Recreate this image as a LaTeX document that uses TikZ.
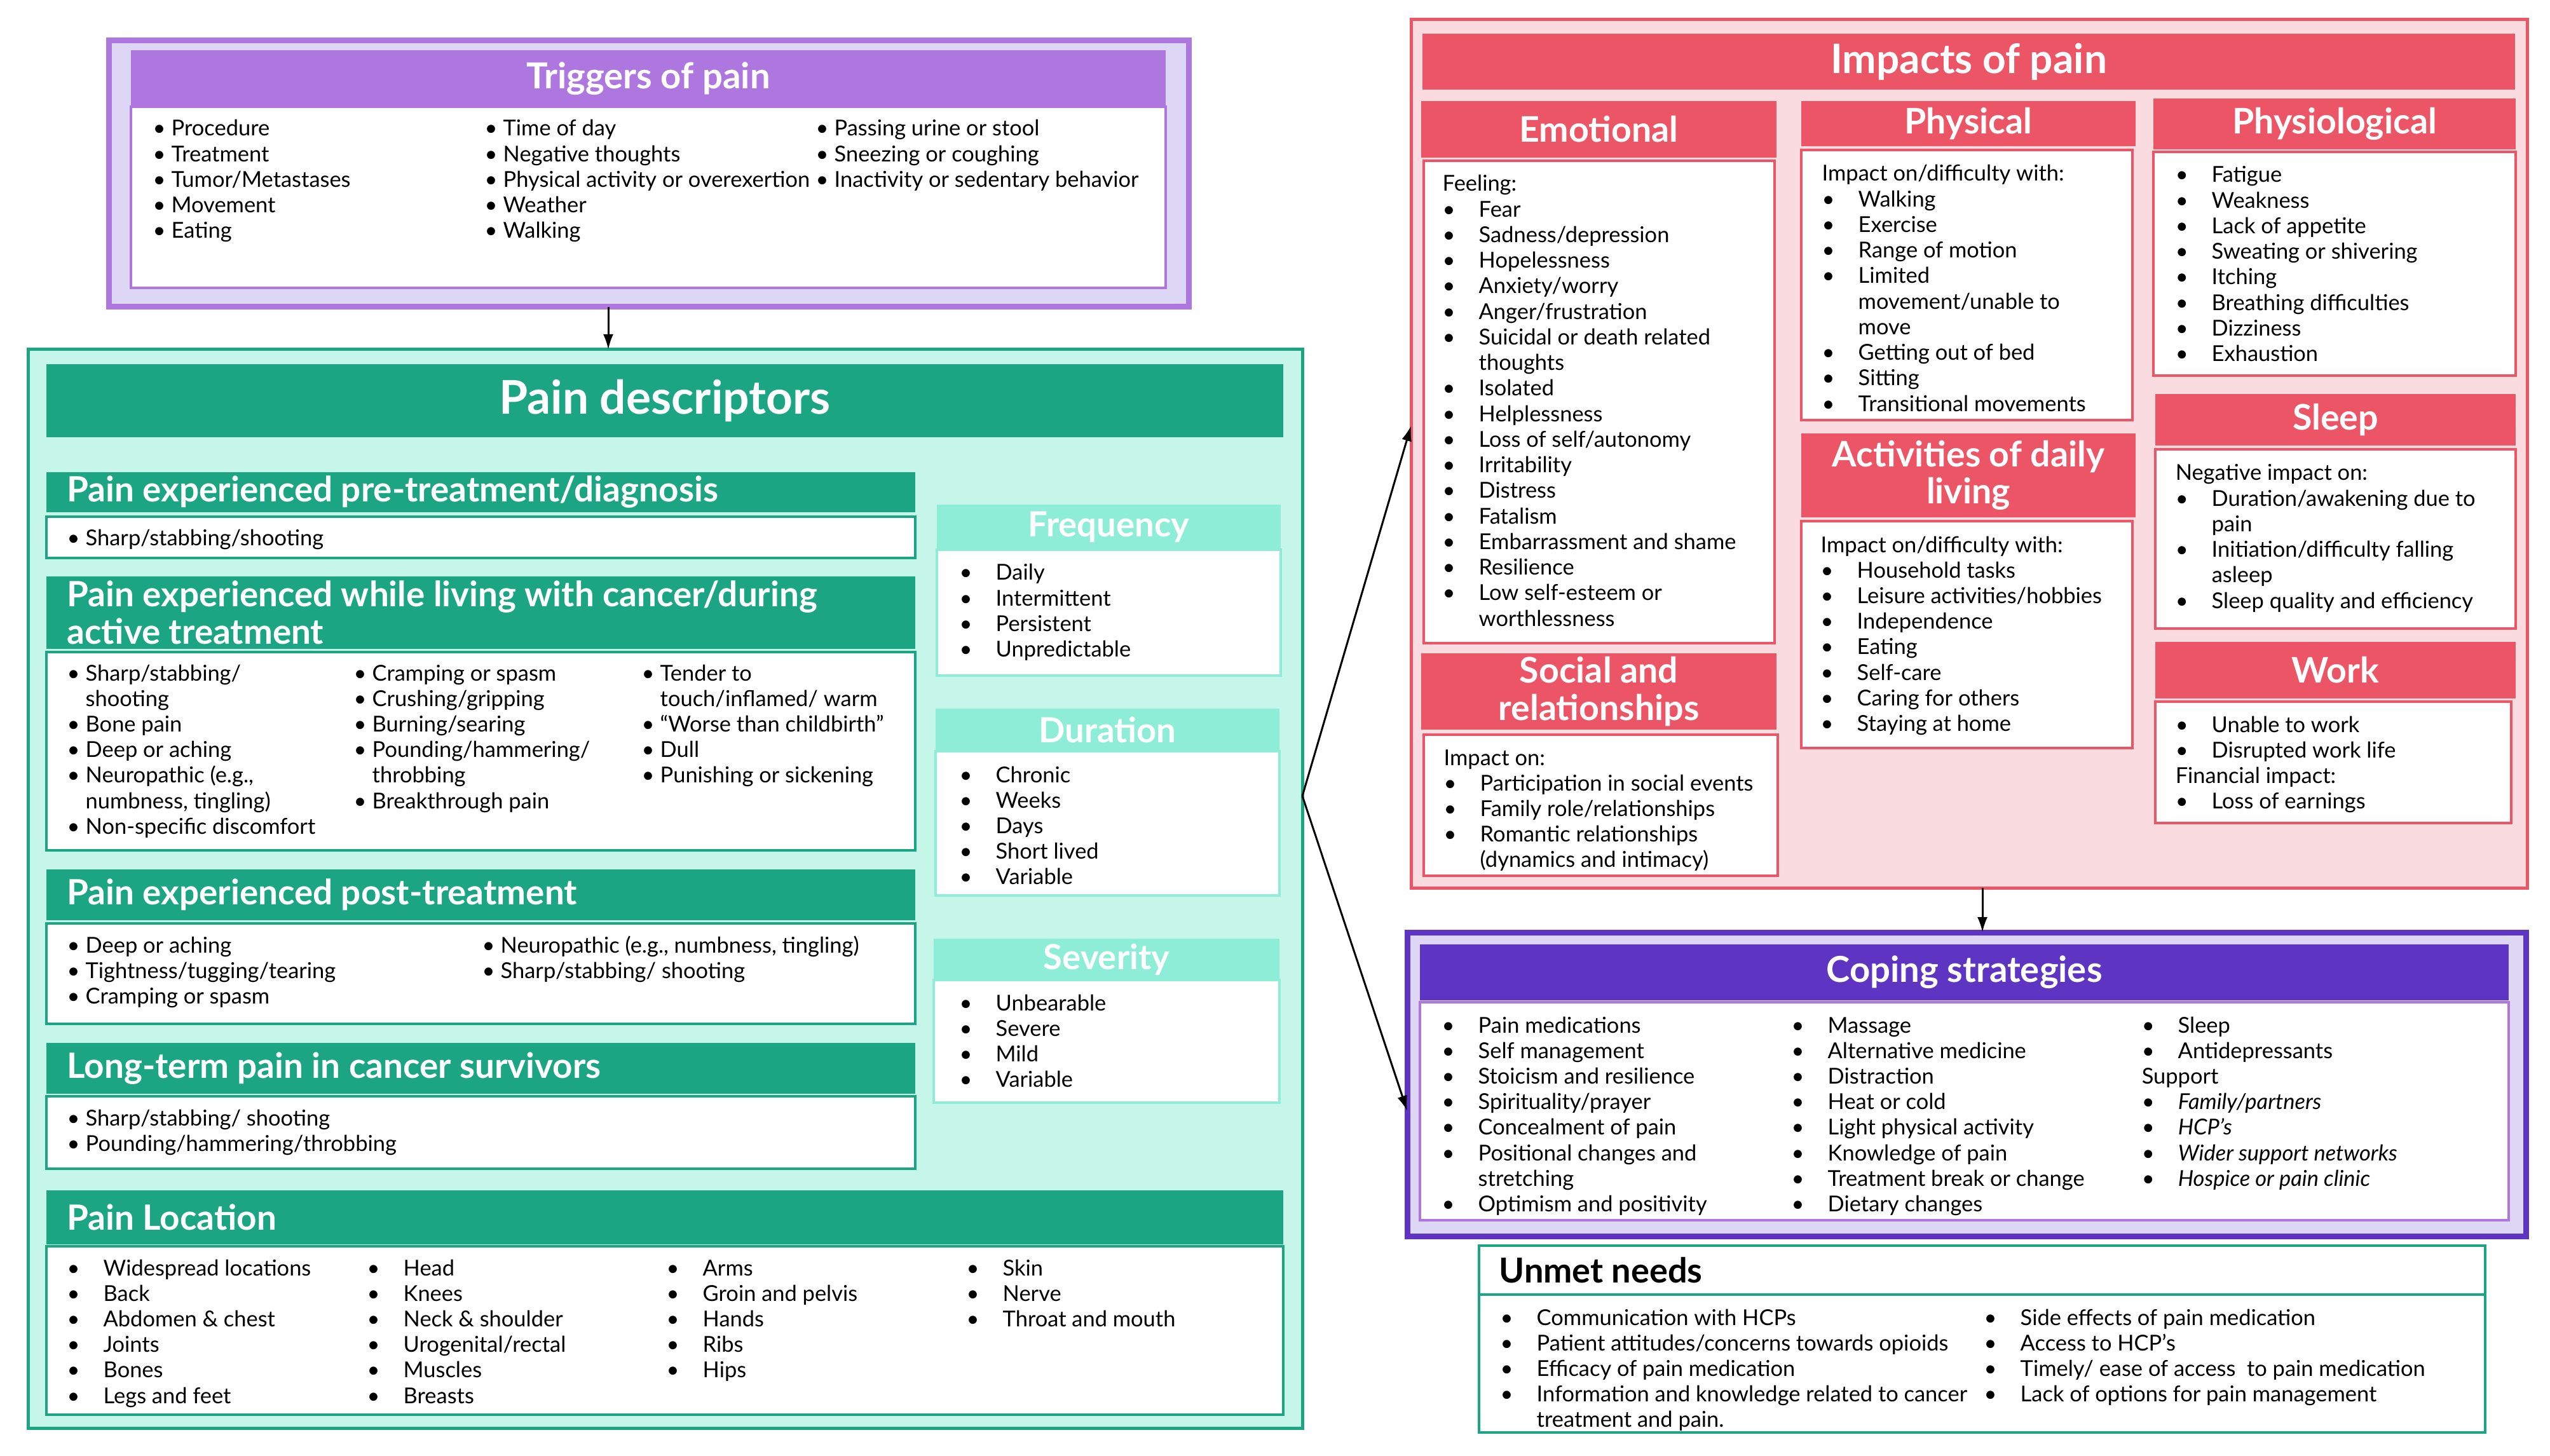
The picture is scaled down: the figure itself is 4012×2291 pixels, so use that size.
\documentclass[tikz,border=0pt]{standalone}
\usepackage{fontspec}
\setmainfont{Lato}
\usetikzlibrary{arrows.meta,positioning}
\definecolor{trigpurple}{RGB}{174,119,224}
\definecolor{lavender}{RGB}{222,214,245}
\definecolor{painteal}{RGB}{27,165,130}
\definecolor{mintfill}{RGB}{198,245,233}
\definecolor{mintlight}{RGB}{142,237,214}
\definecolor{impred}{RGB}{236,85,102}
\definecolor{pinkfill}{RGB}{250,219,223}
\definecolor{copepurple}{RGB}{94,53,194}
% bullets: tight and wide
\newcommand{\bt}{\makebox[2.9mm][l]{\textbullet}}
\newcommand{\bw}{\makebox[5.7mm][l]{\textbullet}}
\newcommand{\ct}{\hspace*{2.9mm}}
\newcommand{\cw}{\hspace*{5.7mm}}
\newcommand{\hf}[2]{\bfseries\fontsize{#1}{#2}\selectfont}
% list whose baseline is its first line
\newcommand{\items}[1]{\begin{tabular}[t]{@{}l@{}}#1\end{tabular}}
% box from top-left to bottom-right
\newcommand{\panel}[7]{\node[#1,anchor=north west,inner sep=0pt,outer sep=0pt,
  minimum width={(#5-#3)*0.1mm},minimum height={(#6-#4)*0.1mm}] (#2) at (#3,#4) {#7};}

\begin{document}
\begin{tikzpicture}[x=0.1mm,y=-0.1mm,
  trigbox/.style={draw=trigpurple,fill=lavender,line width=0.9mm},
  descbox/.style={draw=painteal,fill=mintfill,line width=0.5mm},
  impbox/.style={draw=impred,fill=pinkfill,line width=0.5mm},
  copebox/.style={draw=copepurple,fill=lavender,line width=0.9mm},
  plainbox/.style={fill=white,line width=0.35mm},
  headbar/.style={text=white,align=center,font=\hf{15.8}{16.7}},
  minthead/.style={headbar,fill=mintlight,font=\hf{15.5}{17}},
  bartext/.style={anchor=west,align=left,inner sep=0pt,text=white,font=\hf{15.6}{16.7}},
  lst/.style={anchor=base west,inner sep=0pt,font=\fontsize{9.8}{11.45}\selectfont},
  arr/.style={-{Latex[length=2.4mm,width=1.6mm]},line width=0.3mm}]
\fill[white] (0,0) rectangle (4012,2291);
\useasboundingbox (0,0) rectangle (4012,2291);

% Triggers of pain
\panel{trigbox}{trig}{171}{64}{1870}{483}{}
\panel{plainbox,draw=trigpurple}{trigbody}{206}{168}{1834}{453}{}
\panel{headbar,fill=trigpurple,font=\hf{16}{19}}{trighead}{206}{79}{1834}{168}{Triggers of pain}
\node[lst] (trigc1) at (240,214) {\items{\bt Procedure\\\bt Treatment\\\bt Tumor/Metastases\\\bt Movement\\\bt Eating}};
\node[lst] (trigc2) at (762,214) {\items{\bt Time of day\\\bt Negative thoughts\\\bt Physical activity or overexertion\\\bt Weather\\\bt Walking}};
\node[lst] (trigc3) at (1283,214) {\items{\bt Passing urine or stool\\\bt Sneezing or coughing\\\bt Inactivity or sedentary behavior}};

% Pain descriptors
\panel{descbox}{desc}{44}{550}{2049}{2247}{}
\panel{headbar,fill=painteal,font=\hf{20.8}{24}}{deschead}{73}{573}{2019}{688}{Pain descriptors}
% pre-treatment
\panel{plainbox,draw=painteal}{prebody}{73}{813}{1440}{878}{}
\panel{headbar,fill=painteal}{prebar}{73}{743}{1440}{806}{}
\node[bartext] (pretitle) at ([xshift=3.2mm]prebar.west) {Pain experienced pre-treatment/diagnosis};
\node[lst] (prelist) at (105,859) {\items{\bt Sharp/stabbing/shooting}};
% living with cancer
\panel{plainbox,draw=painteal}{livbody}{73}{1026}{1440}{1338}{}
\panel{headbar,fill=painteal}{livbar}{73}{907}{1440}{1021}{}
\node[bartext] (livtitle) at ([xshift=3.2mm]livbar.west) {Pain experienced while living with cancer/during\\active treatment};
\node[lst] (livc1) at (105,1071) {\items{\bt Sharp/stabbing/\\\ct shooting\\\bt Bone pain\\\bt Deep or aching\\\bt Neuropathic (e.g.,\\\ct numbness, tingling)\\\bt Non-specific discomfort}};
\node[lst] (livc2) at (556,1071) {\items{\bt Cramping or spasm\\\bt Crushing/gripping\\\bt Burning/searing\\\bt Pounding/hammering/\\\ct throbbing\\\bt Breakthrough pain}};
\node[lst] (livc3) at (1009,1071) {\items{\bt Tender to\\\ct touch/inflamed/ warm\\\bt “Worse than childbirth”\\\bt Dull\\\bt Punishing or sickening}};
% post-treatment
\panel{plainbox,draw=painteal}{postbody}{73}{1453}{1440}{1611}{}
\panel{headbar,fill=painteal}{postbar}{73}{1368}{1440}{1448}{}
\node[bartext] (posttitle) at ([xshift=3.2mm]postbar.west) {Pain experienced post-treatment};
\node[lst] (postc1) at (105,1499) {\items{\bt Deep or aching\\\bt Tightness/tugging/tearing\\\bt Cramping or spasm}};
\node[lst] (postc2) at (758,1499) {\items{\bt Neuropathic (e.g., numbness, tingling)\\\bt Sharp/stabbing/ shooting}};
% survivors
\panel{plainbox,draw=painteal}{longbody}{73}{1725}{1440}{1839}{}
\panel{headbar,fill=painteal}{longbar}{73}{1641}{1440}{1721}{}
\node[bartext] (longtitle) at ([xshift=3.2mm]longbar.west) {Long-term pain in cancer survivors};
\node[lst] (longlist) at (105,1771) {\items{\bt Sharp/stabbing/ shooting\\\bt Pounding/hammering/throbbing}};
% location
\panel{plainbox,draw=painteal}{locbody}{73}{1961}{2019}{2226}{}
\panel{headbar,fill=painteal}{locbar}{73}{1873}{2019}{1958}{}
\node[bartext] (loctitle) at ([xshift=3.2mm]locbar.west) {Pain Location};
\node[lst] (locc1) at (105,2007) {\items{\bw Widespread locations\\\bw Back\\\bw Abdomen \& chest\\\bw Joints\\\bw Bones\\\bw Legs and feet}};
\node[lst] (locc2) at (577,2007) {\items{\bw Head\\\bw Knees\\\bw Neck \& shoulder\\\bw Urogenital/rectal\\\bw Muscles\\\bw Breasts}};
\node[lst] (locc3) at (1048,2007) {\items{\bw Arms\\\bw Groin and pelvis\\\bw Hands\\\bw Ribs\\\bw Hips}};
\node[lst] (locc4) at (1520,2007) {\items{\bw Skin\\\bw Nerve\\\bw Throat and mouth}};
% frequency, duration, severity
\panel{plainbox,draw=mintlight}{freqbody}{1474}{865}{2015}{1063}{}
\panel{minthead}{freqhead}{1474}{794}{2015}{865}{Frequency}
\node[lst] (freqlist) at (1509,913) {\items{\bw Daily\\\bw Intermittent\\\bw Persistent\\\bw Unpredictable}};
\panel{plainbox,draw=mintlight}{durbody}{1472}{1182}{2013}{1409}{}
\panel{minthead}{durhead}{1472}{1115}{2013}{1182}{Duration}
\node[lst] (durlist) at (1509,1231) {\items{\bw Chronic\\\bw Weeks\\\bw Days\\\bw Short lived\\\bw Variable}};
\panel{plainbox,draw=mintlight}{sevbody}{1469}{1542}{2013}{1735}{}
\panel{minthead}{sevhead}{1469}{1477}{2013}{1542}{Severity}
\node[lst] (sevlist) at (1509,1590) {\items{\bw Unbearable\\\bw Severe\\\bw Mild\\\bw Variable}};

% Impacts of pain
\panel{impbox}{imp}{2220}{31}{3976}{1397}{}
\panel{headbar,fill=impred,font=\hf{18.2}{21}}{imphead}{2238}{53}{3957}{141}{Impacts of pain}
\panel{plainbox,draw=impred}{emobody}{2240}{253}{2792}{1012}{}
\panel{headbar,fill=impred}{emohead}{2236}{159}{2795}{248}{Emotional}
\node[lst] (emolist) at (2269,301) {\items{Feeling:\\\bw Fear\\\bw Sadness/depression\\\bw Hopelessness\\\bw Anxiety/worry\\\bw Anger/frustration\\\bw Suicidal or death related\\\cw thoughts\\\bw Isolated\\\bw Helplessness\\\bw Loss of self/autonomy\\\bw Irritability\\\bw Distress\\\bw Fatalism\\\bw Embarrassment and shame\\\bw Resilience\\\bw Low self-esteem or\\\cw worthlessness}};
\panel{plainbox,draw=impred}{physbody}{2834}{236}{3355}{661}{}
\panel{headbar,fill=impred}{physhead}{2834}{159}{3360}{230}{Physical}
\node[lst] (physlist) at (2866,285) {\items{Impact on/difficulty with:\\\bw Walking\\\bw Exercise\\\bw Range of motion\\\bw Limited\\\cw movement/unable to\\\cw move\\\bw Getting out of bed\\\bw Sitting\\\bw Transitional movements}};
\panel{plainbox,draw=impred}{physiobody}{3388}{239}{3958}{591}{}
\panel{headbar,fill=impred}{physiohead}{3388}{155}{3958}{235}{Physiological}
\node[lst] (physiolist) at (3422,287) {\items{\bw Fatigue\\\bw Weakness\\\bw Lack of appetite\\\bw Sweating or shivering\\\bw Itching\\\bw Breathing difficulties\\\bw Dizziness\\\bw Exhaustion}};
\panel{plainbox,draw=impred}{adlbody}{2834}{820}{3355}{1177}{}
\panel{headbar,fill=impred}{adlhead}{2834}{682}{3360}{814}{Activities of daily\\living}
\node[lst] (adllist) at (2864,869) {\items{Impact on/difficulty with:\\\bw Household tasks\\\bw Leisure activities/hobbies\\\bw Independence\\\bw Eating\\\bw Self-care\\\bw Caring for others\\\bw Staying at home}};
\panel{plainbox,draw=impred}{sleepbody}{3391}{707}{3958}{989}{}
\panel{headbar,fill=impred}{sleephead}{3391}{620}{3958}{701}{Sleep}
\node[lst] (sleeplist) at (3422,756) {\items{Negative impact on:\\\bw Duration/awakening due to\\\cw pain\\\bw Initiation/difficulty falling\\\cw asleep\\\bw Sleep quality and efficiency}};
\panel{plainbox,draw=impred}{socbody}{2240}{1156}{2797}{1378}{}
\panel{headbar,fill=impred}{sochead}{2236}{1028}{2795}{1148}{Social and\\relationships}
\node[lst] (soclist) at (2271,1204) {\items{Impact on:\\\bw Participation in social events\\\bw Family role/relationships\\\bw Romantic relationships\\\cw (dynamics and intimacy)}};
\panel{plainbox,draw=impred}{workbody}{3391}{1104}{3951}{1295}{}
\panel{headbar,fill=impred}{workhead}{3391}{1010}{3958}{1099}{Work}
\node[lst] (worklist) at (3422,1152) {\items{\bw Unable to work\\\bw Disrupted work life\\Financial impact:\\\bw Loss of earnings}};

% Coping strategies
\panel{copebox}{cope}{2214}{1467}{3974}{1945}{}
\panel{plainbox,draw=trigpurple}{copebody}{2234}{1577}{3947}{1920}{}
\panel{headbar,fill=copepurple,font=\hf{16}{19}}{copehead}{2234}{1486}{3947}{1574}{Coping strategies}
\node[lst] (copec1) at (2268,1625) {\items{\bw Pain medications\\\bw Self management\\\bw Stoicism and resilience\\\bw Spirituality/prayer\\\bw Concealment of pain\\\bw Positional changes and\\\cw stretching\\\bw Optimism and positivity}};
\node[lst] (copec2) at (2818,1625) {\items{\bw Massage\\\bw Alternative medicine\\\bw Distraction\\\bw Heat or cold\\\bw Light physical activity\\\bw Knowledge of pain\\\bw Treatment break or change\\\bw Dietary changes}};
\node[lst] (copec3) at (3369,1625) {\items{\bw Sleep\\\bw Antidepressants\\Support\\\bw\textit{Family/partners}\\\bw\textit{HCP’s}\\\bw\textit{Wider support networks}\\\bw\textit{Hospice or pain clinic}}};

% Unmet needs
\panel{plainbox,draw=painteal,line width=0.4mm}{unmethead}{2327}{1960}{3910}{2037}{}
\panel{plainbox,draw=painteal,line width=0.4mm}{unmetbody}{2327}{2037}{3910}{2254}{}
\node[anchor=west,inner sep=0pt,font=\hf{15.4}{18}] (unmettitle) at ([xshift=3.1mm]unmethead.west) {Unmet needs};
\node[lst] (unmetc1) at (2360,2085) {\items{\bw Communication with HCPs\\\bw Patient attitudes/concerns towards opioids\\\bw Efficacy of pain medication\\\bw Information and knowledge related to cancer\\\cw treatment and pain.}};
\node[lst] (unmetc2) at (3121,2085) {\items{\bw Side effects of pain medication\\\bw Access to HCP’s\\\bw Timely/ ease of access\ \ to pain medication\\\bw Lack of options for pain management}};

% Connectors
\draw[arr] ([xshift=-6.35mm]trig.south) -- ([xshift=-6.35mm]trig.south |- desc.north);
\coordinate (fork) at ([yshift=14.6mm]desc.east);
\draw[arr] (fork) -- ([yshift=4.4mm]imp.west);
\draw[arr] (fork) -- ([yshift=-4.2mm]cope.west);
\draw[arr] ([xshift=2.1mm]imp.south) -- ([xshift=2.1mm]imp.south |- cope.north);
\end{tikzpicture}
\end{document}
